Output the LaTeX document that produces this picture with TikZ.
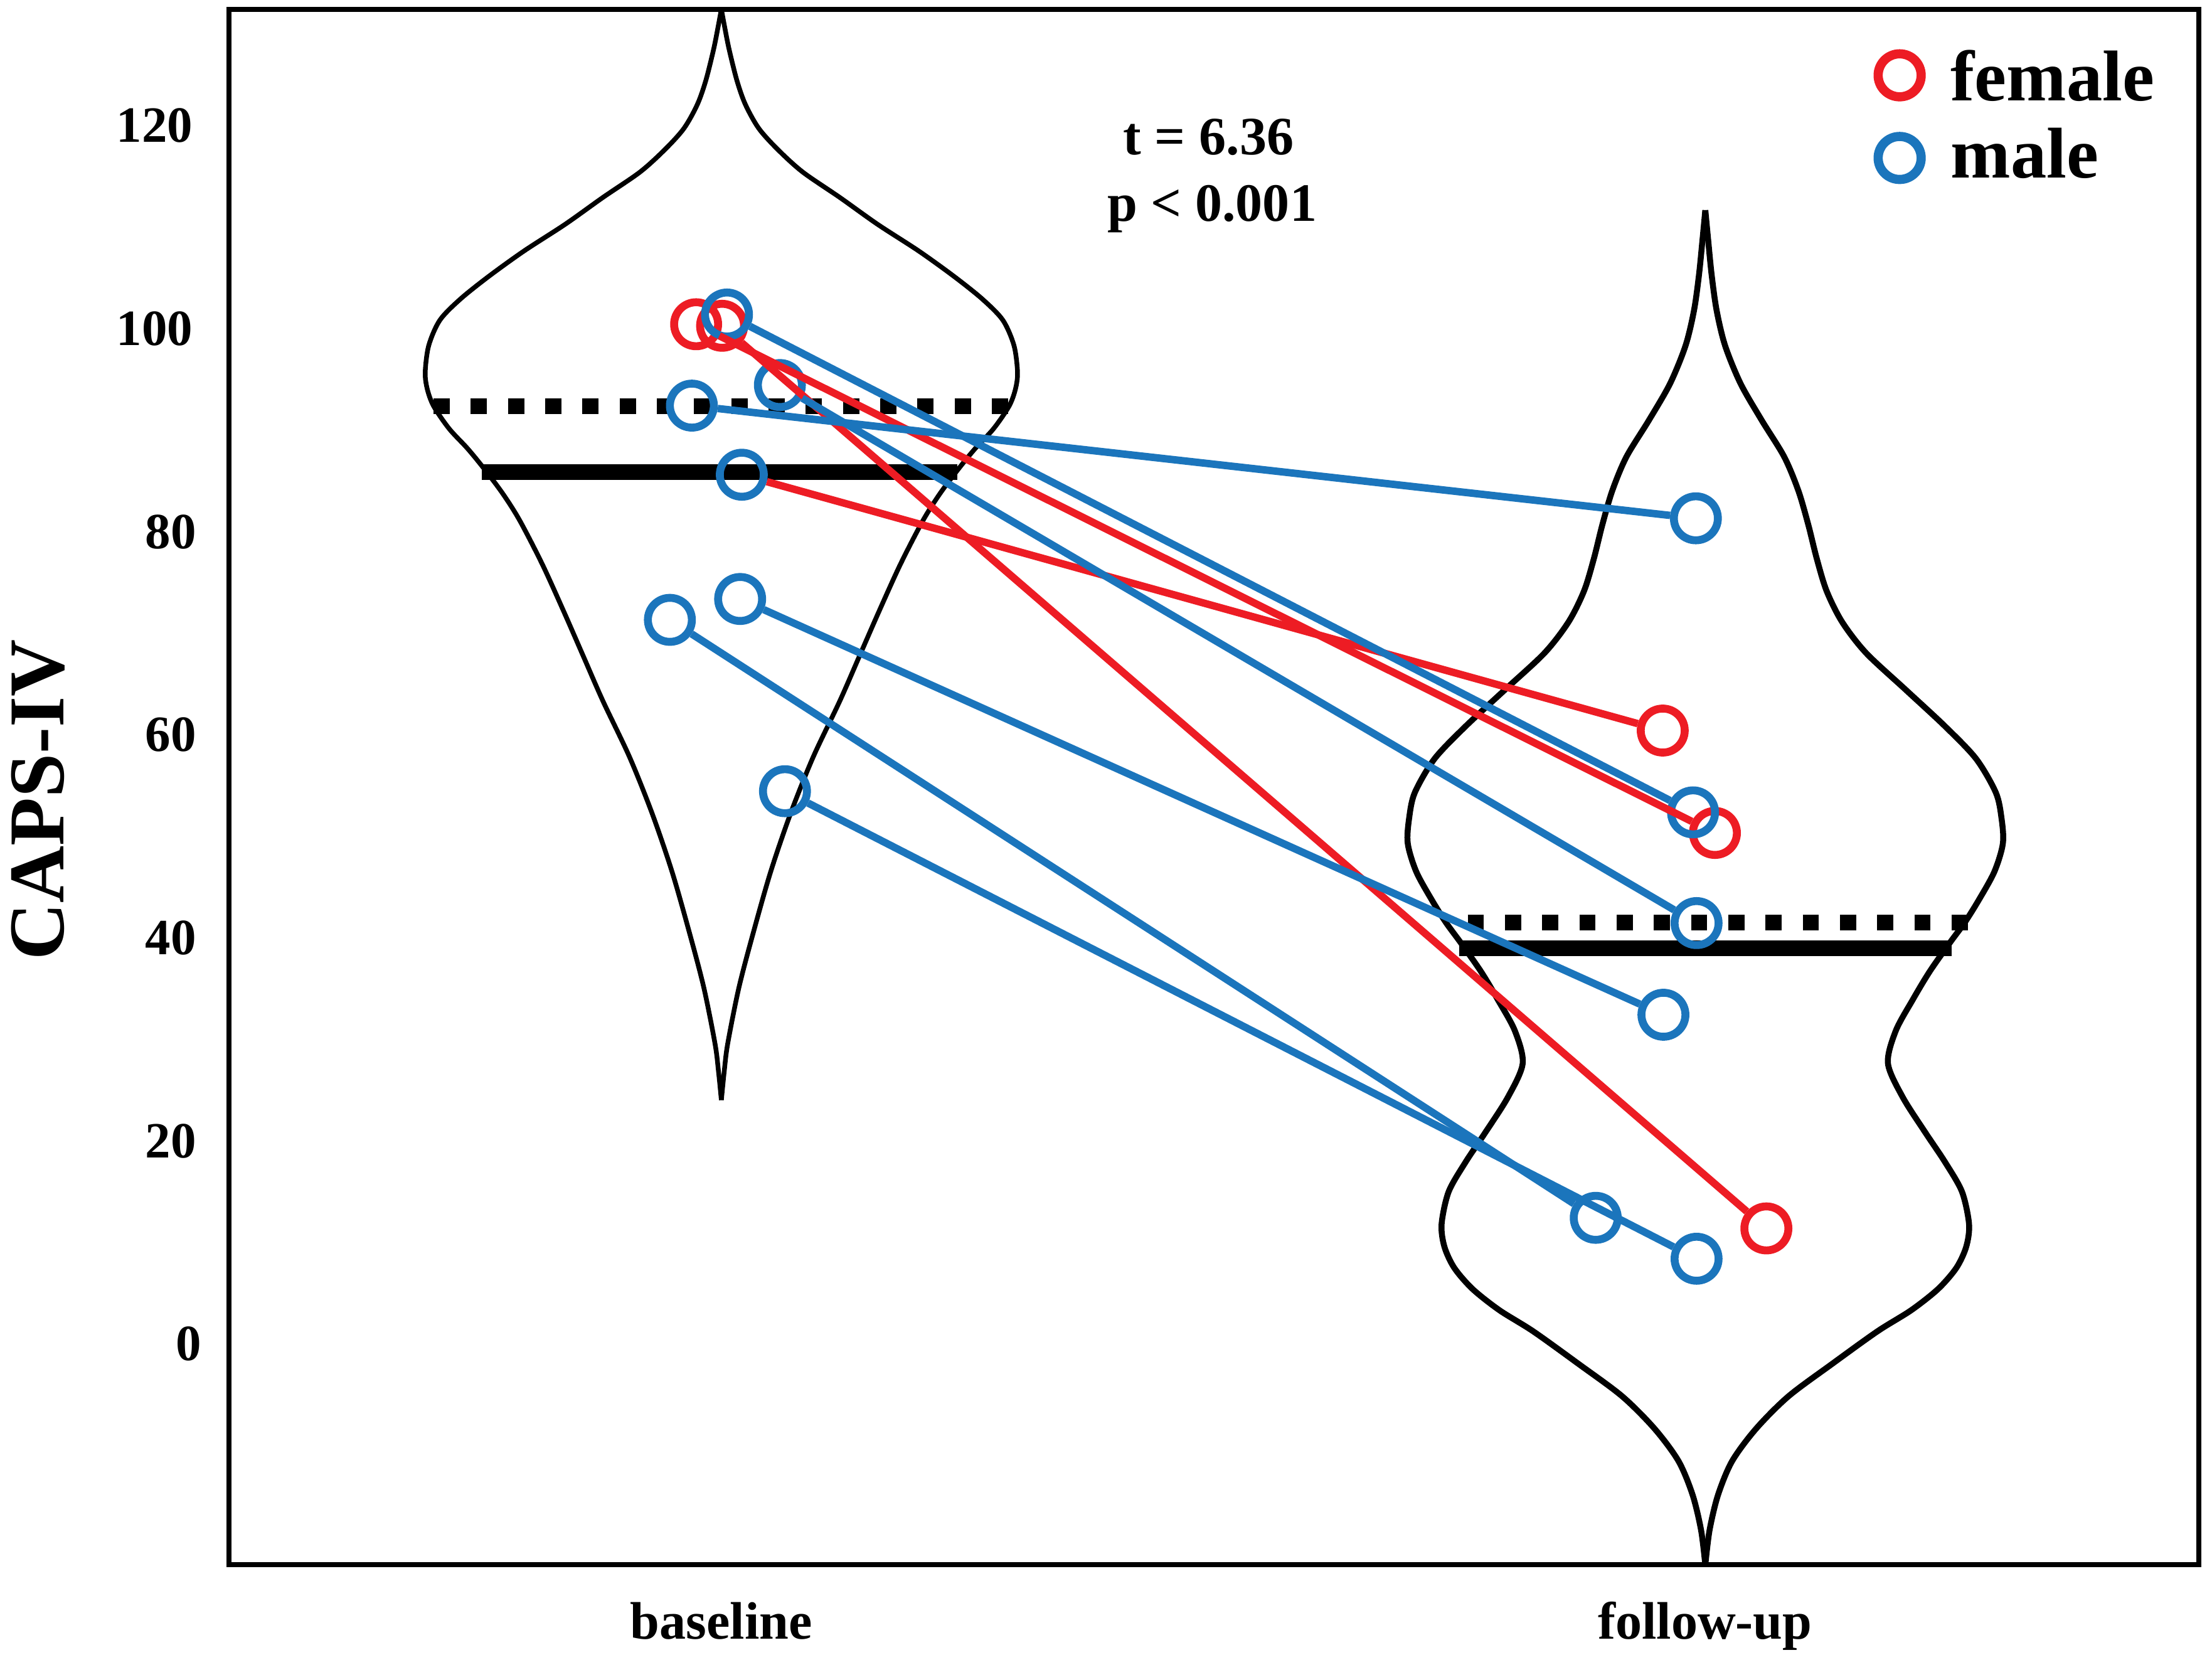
\documentclass[tikz,border=0pt]{standalone}
\usepackage{fontspec}
\setmainfont{Liberation Serif}
\definecolor{fred}{RGB}{237,28,36}
\definecolor{mblue}{RGB}{27,117,188}
\begin{document}
\begin{tikzpicture}[x=0.02cm, y=-0.02cm,
  pt/.style={circle, draw, line width=3.2pt, minimum size=0.624cm, inner sep=0pt},
  fpt/.style={pt, draw=fred},
  mpt/.style={pt, draw=mblue},
  legpt/.style={circle, draw, line width=3.7pt, minimum size=0.61cm, inner sep=0pt},
  fl/.style={draw=fred, line width=3pt},
  ml/.style={draw=mblue, line width=3pt},
  violin/.style={line width=1.9pt, line join=round},
  meanline/.style={line width=6.3pt, dash pattern=on 0.23cm off 0.298cm},
  medline/.style={line width=6.3pt},
  ticklab/.style={font=\fontsize{20.5}{24}\selectfont\bfseries, anchor=east, inner sep=0pt},
  catlab/.style={font=\fontsize{21.3}{25}\selectfont\bfseries, anchor=base, inner sep=0pt},
  leglab/.style={font=\fontsize{29}{34}\selectfont\bfseries, anchor=base west, inner sep=0pt},
  statlab/.style={font=\fontsize{21.8}{26}\selectfont\bfseries, anchor=base, inner sep=0pt}
]
\useasboundingbox (0,0) rectangle (1568.5,1177);

% frame
\draw[line width=2pt] (162.3,6.5) rectangle (1559,1109.6);

% baseline violin
\draw[violin] plot[smooth, tension=0.5] coordinates {(511.5,6.5) (514,20) (517,35) (522.5,57) (528.5,74) (538,91) (551.5,106) (569.2,122) (595.5,140) (622.2,159) (651.5,178) (676.5,196) (696.5,212) (711.1,227) (719,245) (721.5,264) (720,276) (715.5,288) (704.5,304) (691.5,318) (680,332) (666.5,350) (654.5,369) (638.5,400) (623.5,433) (609.5,465) (595.5,497) (576.5,537) (560.5,577) (546.5,618) (534.5,660) (524,700) (516,740) (513.5,760) (511.5,780)};
\draw[violin] plot[smooth, tension=0.5] coordinates {(511.5,6.5) (509,20) (506,35) (500.5,57) (494.5,74) (485,91) (471.5,106) (453.8,122) (427.5,140) (400.8,159) (371.5,178) (346.5,196) (326.5,212) (311.9,227) (304,245) (301.5,264) (303,276) (307.5,288) (318.5,304) (331.5,318) (343,332) (356.5,350) (368.5,369) (384.5,400) (399.5,433) (413.5,465) (427.5,497) (446.5,537) (462.5,577) (476.5,618) (488.5,660) (499,700) (507,740) (509.5,760) (511.5,780)};

% follow-up violin
\draw[violin, line width=2.4pt] plot[smooth, tension=0.5] coordinates {(1209.2,149) (1211.2,170) (1213.7,195) (1217.2,220) (1223.2,245) (1234.2,272) (1249.2,298) (1265.2,324) (1275.2,348) (1282.2,372) (1288.2,396) (1295.2,419) (1306.2,441) (1323.2,463) (1351.2,489) (1379.2,515) (1401.2,538) (1415.2,562) (1419.2,580) (1420.2,598) (1414.2,618) (1403.2,638) (1393.2,654) (1382.2,669) (1368.2,689) (1356.2,709) (1344.2,731) (1338.7,754) (1349.2,778) (1365.2,803) (1379.2,824) (1391.2,845) (1396.2,868) (1394.2,884) (1387.2,899) (1374.2,914) (1355.2,929) (1331.2,944) (1299.2,967) (1268.2,990) (1245.2,1013) (1228.2,1036) (1218.2,1060) (1212.2,1085) (1209.2,1109.6)};
\draw[violin, line width=2.4pt] plot[smooth, tension=0.5] coordinates {(1209.2,149) (1207.2,170) (1204.7,195) (1201.2,220) (1195.2,245) (1184.2,272) (1169.2,298) (1153.2,324) (1143.2,348) (1136.2,372) (1130.2,396) (1123.2,419) (1112.2,441) (1095.2,463) (1067.2,489) (1039.2,515) (1017.2,538) (1003.2,562) (999.2,580) (998.2,598) (1004.2,618) (1015.2,638) (1025.2,654) (1036.2,669) (1050.2,689) (1062.2,709) (1074.2,731) (1079.7,754) (1069.2,778) (1053.2,803) (1039.2,824) (1027.2,845) (1022.2,868) (1024.2,884) (1031.2,899) (1044.2,914) (1063.2,929) (1087.2,944) (1119.2,967) (1150.2,990) (1173.2,1013) (1190.2,1036) (1200.2,1060) (1206.2,1085) (1209.2,1109.6)};

% mean (dashed) and median (solid) lines
\draw[meanline] (307.4,287.9) -- (716,287.9);
\draw[medline] (341.7,334.7) -- (678.6,334.7);
\draw[meanline] (1040.7,654.3) -- (1396.3,654.3);
\draw[medline] (1034.5,672.2) -- (1383.9,672.2);

% baseline points
\node[fpt] (A) at (493.6,229.9) {};
\node[fpt] (B) at (512,231) {};
\node[mpt] (C) at (515.5,223) {};
\node[mpt] (D) at (553,273) {};
\node[mpt] (E) at (490.6,287.6) {};
\node[mpt] (F) at (526,336.6) {};
\node[mpt] (G) at (475,439.5) {};
\node[mpt] (H) at (524.8,424.7) {};
\node[mpt] (I) at (556.6,561) {};

% follow-up points
\node[mpt] (a) at (1202.5,367.5) {};
\node[fpt] (b) at (1179,518) {};
\node[fpt] (d) at (1216,590.6) {};
\node[mpt] (c) at (1200.5,576) {};
\node[mpt] (e) at (1203,654.5) {};
\node[mpt] (f) at (1179.5,719.5) {};
\node[mpt] (g) at (1131.5,863.5) {};
\node[fpt] (h) at (1252.5,871) {};
\node[mpt] (i) at (1203,892.5) {};

% connectors
\draw[fl] (A) -- (d);
\draw[fl] (B) -- (h);
\draw[fl] (F) -- (b);
\draw[ml] (C) -- (c);
\draw[ml] (D) -- (e);
\draw[ml] (E) -- (a);
\draw[ml] (G) -- (g);
\draw[ml] (H) -- (f);
\draw[ml] (I) -- (i);

% y tick labels
\node[ticklab] (y120) at (137,89) {120};
\node[ticklab] (y100) at (137,233) {100};
\node[ticklab] (y80) at (139.5,377) {80};
\node[ticklab] (y60) at (139.5,521) {60};
\node[ticklab] (y40) at (139.5,665) {40};
\node[ticklab] (y20) at (139.5,809) {20};
\node[ticklab] (y0) at (143,953) {0};

% axis title
\node[font=\fontsize{31.9}{36}\selectfont\bfseries, rotate=90, inner sep=0pt] (ytitle) at (27,567) {CAPS-IV};

% category labels
\node[catlab] (xbase) at (511.5,1162) {baseline};
\node[catlab] (xfollow) at (1209,1162) {follow-up};

% statistics
\node[statlab] (tstat) at (857,109.7) {t = 6.36};
\node[statlab] (pstat) at (859.5,157) {p < 0.001};

% legend
\node[legpt, draw=fred] (lf) at (1347,53.4) {};
\node[legpt, draw=mblue] (lm) at (1347,112) {};
\node[leglab] (tf) at (1383,71.2) {female};
\node[leglab] (tm) at (1383,126) {male};
\end{tikzpicture}
\end{document}
